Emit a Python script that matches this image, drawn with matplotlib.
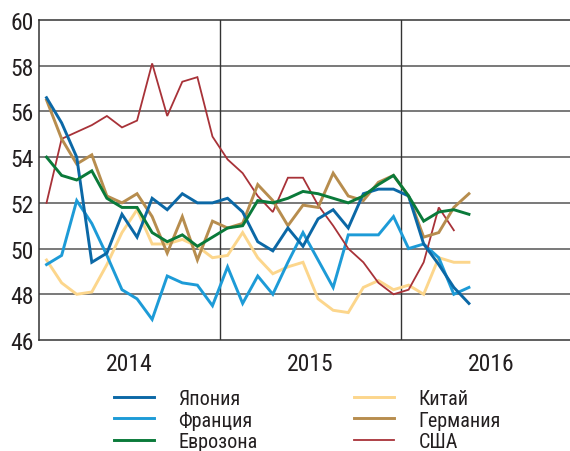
import numpy as np
import matplotlib
matplotlib.use("Agg")
import matplotlib.pyplot as plt
from matplotlib import font_manager
from matplotlib.font_manager import FontProperties

# monthly PMI, Jan 2014 .. May 2016
japan = [56.6, 55.5, 54.0, 49.4, 49.8, 51.5, 50.5, 52.2, 51.7, 52.4, 52.0, 52.0,
         52.2, 51.6, 50.3, 49.9, 50.9, 50.1, 51.3, 51.7, 50.9, 52.4, 52.6, 52.6,
         52.3, 50.2, 49.3, 48.3, 47.6]
france = [49.3, 49.7, 52.1, 51.1, 49.7, 48.2, 47.8, 46.9, 48.8, 48.5, 48.4, 47.5,
          49.2, 47.6, 48.8, 48.0, 49.4, 50.7, 49.5, 48.3, 50.6, 50.6, 50.6, 51.4,
          50.0, 50.2, 49.6, 48.0, 48.3]
eurozone = [54.0, 53.2, 53.0, 53.4, 52.2, 51.8, 51.8, 50.7, 50.3, 50.6, 50.1, 50.5,
            50.9, 51.0, 52.1, 52.0, 52.2, 52.5, 52.4, 52.2, 52.0, 52.3, 52.8, 53.2,
            52.3, 51.2, 51.6, 51.7, 51.5]
china = [49.5, 48.5, 48.0, 48.1, 49.3, 50.7, 51.7, 50.2, 50.2, 50.4, 50.1, 49.6,
         49.7, 50.7, 49.6, 48.9, 49.2, 49.4, 47.8, 47.3, 47.2, 48.3, 48.6, 48.2,
         48.4, 48.0, 49.6, 49.4, 49.4]
germany = [56.5, 54.8, 53.7, 54.1, 52.3, 52.0, 52.4, 51.4, 49.8, 51.4, 49.5, 51.2,
           50.9, 51.1, 52.8, 52.1, 51.0, 51.9, 51.8, 53.3, 52.3, 52.1, 52.9, 53.2,
           52.3, 50.5, 50.7, 51.8, 52.4]
usa = [52.0, 54.8, 55.1, 55.4, 55.8, 55.3, 55.6, 58.1, 55.8, 57.3, 57.5, 54.9,
       53.9, 53.3, 52.3, 51.6, 53.1, 53.1, 51.9, 51.0, 50.0, 49.4, 48.5, 48.0,
       48.2, 49.4, 51.8, 50.8]
years = ["2014", "2015", "2016"]


def narrow_font():
    # look for a condensed / narrow face with Cyrillic; fall back to Liberation Sans
    best = None
    for f in font_manager.fontManager.ttflist:
        st = f.stretch
        narrow = ("Narrow" in f.name or "Condensed" in f.name
                  or (isinstance(st, str) and "condensed" in st)
                  or (isinstance(st, (int, float)) and st < 500))
        if not narrow or f.style != "normal":
            continue
        if f.weight not in (400, "normal", "regular", "book", "Book"):
            continue
        rank = 0 if "Liberation" in f.name else 1 if "Roboto" in f.name else 2
        if best is None or rank < best[0]:
            best = (rank, f.fname)
    if best:
        return best[1]
    return None


fname = narrow_font()
if fname:
    def FP(size):
        return FontProperties(fname=fname, size=size)
else:
    def FP(size):
        return FontProperties(family=["Liberation Sans", "DejaVu Sans"], size=size - 1.5)

TXT = "#231f20"

series = [
    ("Япония", japan, "#0b68a6", 2.1),
    ("Франция", france, "#1d9bd7", 2.1),
    ("Еврозона", eurozone, "#0a7a3a", 2.1),
    ("Китай", china, "#fcd68c", 2.1),
    ("Германия", germany, "#b78d4e", 2.1),
    ("США", usa, "#a83238", 1.3),
]
# draw order: back to front
order = ["Китай", "Франция", "США", "Германия", "Япония", "Еврозона"]

fig = plt.figure(figsize=(5.7, 4.52), dpi=100)
ax = fig.add_axes([39 / 570, 1 - 341 / 452, 1 - 39 / 570, 320 / 452])

handles = {}
for name, vals, c, lw in series:
    x = np.arange(len(vals)) + 0.5
    z = 3 + order.index(name)
    handles[name], = ax.plot(x, vals, color=c, lw=lw, label=name, zorder=z,
                             solid_joinstyle="miter")

ax.set_ylim(46, 60)
ax.set_xlim(0, 35.2)
ax.set_yticks(np.arange(46, 61, 2))
ax.tick_params(axis="y", length=0, pad=4, labelcolor=TXT)
for lab in ax.get_yticklabels():
    lab.set_fontproperties(FP(17))
    lab.set_verticalalignment("center_baseline")
ax.set_xticks([12, 24])
ax.set_xticklabels([])
ax.set_xticks([6, 18, 30], minor=True)
ax.set_xticklabels(years, minor=True)
ax.tick_params(axis="x", which="both", length=0)
ax.tick_params(axis="x", which="minor", pad=9, labelcolor=TXT)
for lab in ax.get_xticklabels(minor=True):
    lab.set_fontproperties(FP(17))

for yv in range(48, 60, 2):
    ax.axhline(yv, color="#555555", lw=1.1, zorder=1)
for xv in [12, 24]:
    ax.axvline(xv, color="#333333", lw=1.0, zorder=1)
for s in ["left", "bottom", "top"]:
    ax.spines[s].set_color("#333333")
    ax.spines[s].set_linewidth(1.1)
ax.spines["right"].set_visible(False)

cols = [(["Япония", "Франция", "Еврозона"], 98),
        (["Китай", "Германия", "США"], 338)]
for names, x0 in cols:
    leg = fig.legend([handles[n] for n in names], names, loc="upper left",
                     bbox_to_anchor=(x0 / 570, 1 - 374 / 452),
                     frameon=False, prop=FP(14.5), handlelength=2.0,
                     handletextpad=1.2, labelspacing=0.12, labelcolor=TXT,
                     borderpad=0.3)

fig.savefig("out.png", dpi=100)
